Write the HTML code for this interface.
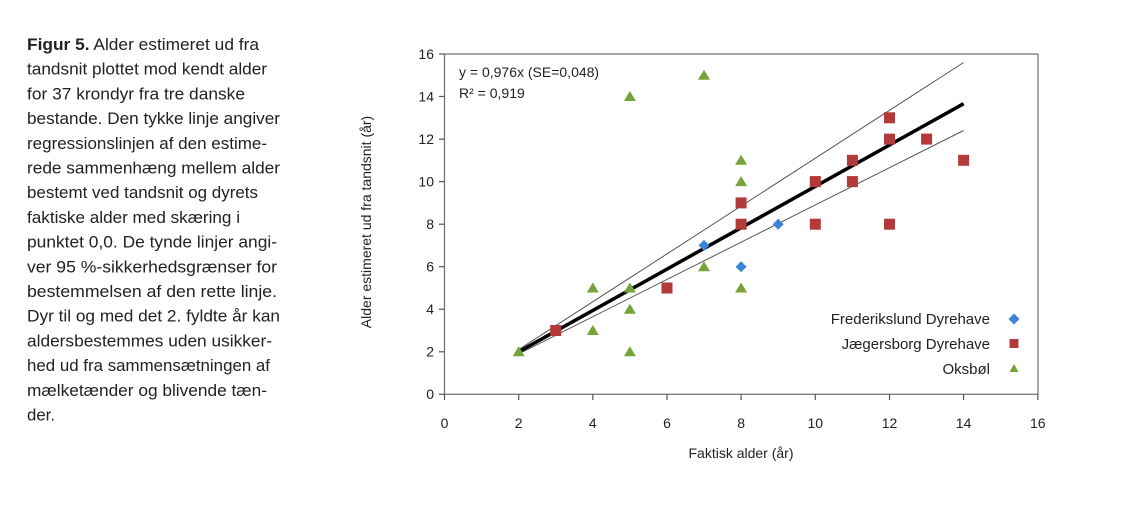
<!DOCTYPE html>
<html><head><meta charset="utf-8"><style>
html,body{margin:0;padding:0;background:#fff;}
svg{display:block;}
text{font-family:"Liberation Sans",sans-serif;fill:#222;}
</style></head><body>
<svg width="1123" height="513" viewBox="0 0 1123 513" xmlns="http://www.w3.org/2000/svg">
<g font-size="17" fill="#111">
<text x="27" y="50" textLength="232" lengthAdjust="spacingAndGlyphs"><tspan font-weight="bold">Figur 5.</tspan> Alder estimeret ud fra</text>
<text x="27" y="74.7" textLength="240" lengthAdjust="spacingAndGlyphs">tandsnit plottet mod kendt alder</text>
<text x="27" y="99.4" textLength="218" lengthAdjust="spacingAndGlyphs">for 37 krondyr fra tre danske</text>
<text x="27" y="124.1" textLength="253" lengthAdjust="spacingAndGlyphs">bestande. Den tykke linje angiver</text>
<text x="27" y="148.8" textLength="240" lengthAdjust="spacingAndGlyphs">regressionslinjen af den estime-</text>
<text x="27" y="173.5" textLength="253" lengthAdjust="spacingAndGlyphs">rede sammenhæng mellem alder</text>
<text x="27" y="198.2" textLength="231" lengthAdjust="spacingAndGlyphs">bestemt ved tandsnit og dyrets</text>
<text x="27" y="222.9" textLength="213" lengthAdjust="spacingAndGlyphs">faktiske alder med skæring i</text>
<text x="27" y="247.6" textLength="250" lengthAdjust="spacingAndGlyphs">punktet 0,0. De tynde linjer angi-</text>
<text x="27" y="272.3" textLength="250" lengthAdjust="spacingAndGlyphs">ver 95 %-sikkerhedsgrænser for</text>
<text x="27" y="297" textLength="250" lengthAdjust="spacingAndGlyphs">bestemmelsen af den rette linje.</text>
<text x="27" y="321.7" textLength="253" lengthAdjust="spacingAndGlyphs">Dyr til og med det 2. fyldte år kan</text>
<text x="27" y="346.4" textLength="245" lengthAdjust="spacingAndGlyphs">aldersbestemmes uden usikker-</text>
<text x="27" y="371.1" textLength="243" lengthAdjust="spacingAndGlyphs">hed ud fra sammensætningen af</text>
<text x="27" y="395.8" textLength="240" lengthAdjust="spacingAndGlyphs">mælketænder og blivende tæn-</text>
<text x="27" y="420.5" textLength="28" lengthAdjust="spacingAndGlyphs">der.</text>
</g>
<rect x="444.5" y="54" width="593.5" height="340.3" fill="none" stroke="#777" stroke-width="1.3"/>
<g stroke="#555" stroke-width="1.2">
<line x1="439" y1="394.3" x2="444.5" y2="394.3"/><line x1="439" y1="351.8" x2="444.5" y2="351.8"/>
<line x1="439" y1="309.2" x2="444.5" y2="309.2"/><line x1="439" y1="266.7" x2="444.5" y2="266.7"/>
<line x1="439" y1="224.2" x2="444.5" y2="224.2"/><line x1="439" y1="181.6" x2="444.5" y2="181.6"/>
<line x1="439" y1="139.1" x2="444.5" y2="139.1"/><line x1="439" y1="96.5" x2="444.5" y2="96.5"/>
<line x1="439" y1="54" x2="444.5" y2="54"/>
<line x1="444.5" y1="394.3" x2="444.5" y2="400"/><line x1="518.7" y1="394.3" x2="518.7" y2="400"/>
<line x1="592.8" y1="394.3" x2="592.8" y2="400"/><line x1="667" y1="394.3" x2="667" y2="400"/>
<line x1="741.1" y1="394.3" x2="741.1" y2="400"/><line x1="815.3" y1="394.3" x2="815.3" y2="400"/>
<line x1="889.5" y1="394.3" x2="889.5" y2="400"/><line x1="963.6" y1="394.3" x2="963.6" y2="400"/>
<line x1="1037.8" y1="394.3" x2="1037.8" y2="400"/>
</g>
<g font-size="14" text-anchor="end">
<text x="434" y="399">0</text><text x="434" y="356.5">2</text><text x="434" y="314">4</text>
<text x="434" y="271.5">6</text><text x="434" y="229">8</text><text x="434" y="186.5">10</text>
<text x="434" y="144">12</text><text x="434" y="101.5">14</text><text x="434" y="59">16</text>
</g>
<g font-size="14" text-anchor="middle">
<text x="444.5" y="428">0</text><text x="518.7" y="428">2</text><text x="592.8" y="428">4</text>
<text x="667" y="428">6</text><text x="741.1" y="428">8</text><text x="815.3" y="428">10</text>
<text x="889.5" y="428">12</text><text x="963.6" y="428">14</text><text x="1037.8" y="428">16</text>
</g>
<text x="741" y="458" font-size="14" text-anchor="middle">Faktisk alder (år)</text>
<text transform="translate(371,222) rotate(-90)" font-size="14" text-anchor="middle">Alder estimeret ud fra tandsnit (år)</text>
<text x="459" y="77" font-size="14">y = 0,976x (SE=0,048)</text>
<text x="459" y="98" font-size="14">R² = 0,919</text>
<line x1="518.7" y1="351.8" x2="963.6" y2="103.7" stroke="#000" stroke-width="3.5"/>
<line x1="518.7" y1="349.6" x2="963.6" y2="62.5" stroke="#555" stroke-width="1"/>
<line x1="518.7" y1="353.9" x2="963.6" y2="130.5" stroke="#555" stroke-width="1"/>
<defs>
<path id="tri" d="M0,-5.5 L6,4.5 L-6,4.5 Z" fill="#77a33a"/>
<rect id="sq" x="-5.5" y="-5.5" width="11" height="11" fill="#b23a3a"/>
<path id="dia" d="M0,-5.5 L5.5,0 L0,5.5 L-5.5,0 Z" fill="#3b84d6"/>
</defs>
<g>
<use href="#tri" x="518.7" y="351.8"/><use href="#tri" x="592.8" y="288"/><use href="#tri" x="592.8" y="330.5"/>
<use href="#tri" x="629.9" y="96.5"/><use href="#tri" x="629.9" y="288"/><use href="#tri" x="629.9" y="309.2"/>
<use href="#tri" x="629.9" y="351.8"/><use href="#tri" x="704" y="75.3"/><use href="#tri" x="704" y="266.7"/>
<use href="#tri" x="741.1" y="160.3"/><use href="#tri" x="741.1" y="181.6"/><use href="#tri" x="741.1" y="288"/>
<use href="#tri" x="741.1" y="224.2"/>
</g>
<g>
<use href="#sq" x="555.7" y="330.5"/><use href="#sq" x="667" y="288"/><use href="#sq" x="741.1" y="202.9"/>
<use href="#sq" x="741.1" y="224.2"/><use href="#sq" x="815.3" y="181.6"/><use href="#sq" x="815.3" y="224.2"/>
<use href="#sq" x="852.4" y="160.3"/><use href="#sq" x="852.4" y="181.6"/><use href="#sq" x="889.5" y="117.8"/>
<use href="#sq" x="889.5" y="139.1"/><use href="#sq" x="889.5" y="224.2"/><use href="#sq" x="926.6" y="139.1"/>
<use href="#sq" x="963.6" y="160.3"/>
</g>
<g>
<use href="#dia" x="704" y="245.4"/><use href="#dia" x="741.1" y="266.7"/><use href="#dia" x="778.2" y="224.2"/>
</g>
<g font-size="15" text-anchor="end">
<text x="990" y="324">Frederikslund Dyrehave</text>
<text x="990" y="349">Jægersborg Dyrehave</text>
<text x="990" y="374">Oksbøl</text>
</g>
<use href="#dia" x="1014" y="319"/>
<rect x="1009.5" y="339" width="9" height="9" fill="#b23a3a"/>
<path d="M1014,364 L1018.5,372 L1009.5,372 Z" fill="#77a33a"/>
</svg>
</body></html>
